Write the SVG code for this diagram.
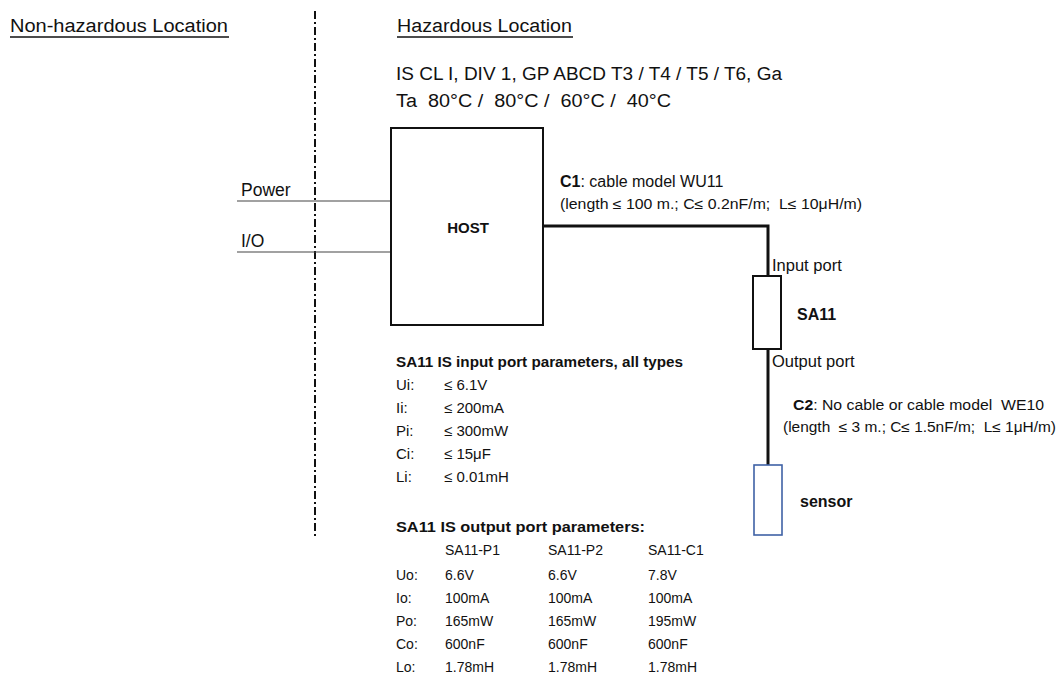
<svg xmlns="http://www.w3.org/2000/svg" width="1059" height="675" viewBox="0 0 1059 675">
<style>
text{font-family:"Liberation Sans",Arial,sans-serif;fill:#111;}
.h{font-size:18px;}
.s{font-size:14px;}
.m{font-size:15px;}
.p{font-size:16.5px;}
.b{font-weight:bold;}
.bl{font-weight:bold;font-size:16px;}
.box{fill:#fff;stroke:#111;stroke-width:2;}
.thin{stroke:#444;stroke-width:1.2;fill:none;}
.cable{stroke:#111;stroke-width:3;fill:none;}
</style>
<rect width="1059" height="675" fill="#fff"/>
<g id="boundary">
<line x1="315" y1="11" x2="315" y2="536" stroke="#111" stroke-width="2" stroke-dasharray="8,3,2,3"/>
<text x="10" y="32" class="h" textLength="218" lengthAdjust="spacingAndGlyphs">Non-hazardous Location</text>
<line x1="10" y1="37" x2="229" y2="37" stroke="#111" stroke-width="1.3"/>
<text x="397" y="32" class="h" textLength="175" lengthAdjust="spacingAndGlyphs">Hazardous Location</text>
<line x1="397" y1="37" x2="573" y2="37" stroke="#111" stroke-width="1.3"/>
<text x="396" y="80" class="h" textLength="386" lengthAdjust="spacingAndGlyphs">IS CL I, DIV 1, GP ABCD T3 / T4 / T5 / T6, Ga</text>
<text x="396" y="107" class="h" xml:space="preserve" textLength="275" lengthAdjust="spacingAndGlyphs">Ta  80°C /  80°C /  60°C /  40°C</text>
</g>
<g id="connectors">
<line x1="237" y1="201" x2="391" y2="201" class="thin"/>
<line x1="237" y1="252" x2="391" y2="252" class="thin"/>
<polyline points="543,226 768,226 768,276" class="cable"/>
<line x1="768" y1="349" x2="768" y2="466" class="cable"/>
</g>
<g id="power-label"><text x="241" y="196" style="font-size:17.5px">Power</text></g>
<g id="io-label"><text x="241" y="247" style="font-size:17.5px">I/O</text></g>
<g id="host">
<rect x="391" y="128" width="152" height="197" class="box"/>
<text x="468" y="233" class="b" style="font-size:15px" text-anchor="middle">HOST</text>
</g>
<g id="c1-label">
<text x="560" y="187" style="font-size:16px"><tspan class="b">C1</tspan>: cable model WU11</text>
<text x="560" y="209" class="s" xml:space="preserve" textLength="302" lengthAdjust="spacingAndGlyphs">(length ≤ 100 m.; C≤ 0.2nF/m;  L≤ 10μH/m)</text>
</g>
<g id="sa11">
<rect x="753" y="276" width="28" height="73" class="box"/>
<text x="772" y="271" class="p">Input port</text>
<text x="797" y="320" class="bl">SA11</text>
<text x="772" y="367" class="p">Output port</text>
</g>
<g id="c2-label">
<text x="793" y="410" class="s" xml:space="preserve" textLength="251" lengthAdjust="spacingAndGlyphs"><tspan class="b">C2</tspan>: No cable or cable model  WE10</text>
<text x="783" y="432" class="s" xml:space="preserve" textLength="273" lengthAdjust="spacingAndGlyphs">(length  ≤ 3 m.; C≤ 1.5nF/m;  L≤ 1μH/m)</text>
</g>
<g id="sensor">
<rect x="754" y="465" width="28" height="70" fill="#fff" stroke="#3f62a6" stroke-width="1.6"/>
<text x="800" y="507" class="bl">sensor</text>
</g>
<g id="input-params">
<text x="396" y="367" class="s b" textLength="287" lengthAdjust="spacingAndGlyphs">SA11 IS input port parameters, all types</text>
<text x="396" y="390" class="m">Ui:</text><text x="444" y="390" class="m">≤ 6.1V</text>
<text x="396" y="413" class="m">Ii:</text><text x="444" y="413" class="m">≤ 200mA</text>
<text x="396" y="436" class="m">Pi:</text><text x="444" y="436" class="m">≤ 300mW</text>
<text x="396" y="459" class="m">Ci:</text><text x="444" y="459" class="m">≤ 15μF</text>
<text x="396" y="482" class="m">Li:</text><text x="444" y="482" class="m">≤ 0.01mH</text>
</g>
<g id="output-params">
<text x="396" y="532" class="s b" textLength="249" lengthAdjust="spacingAndGlyphs">SA11 IS output port parameters:</text>
<text x="445" y="555" class="s">SA11-P1</text><text x="548" y="555" class="s">SA11-P2</text><text x="648" y="555" class="s">SA11-C1</text>
<text x="396" y="580" class="s">Uo:</text><text x="445" y="580" class="s">6.6V</text><text x="548" y="580" class="s">6.6V</text><text x="648" y="580" class="s">7.8V</text>
<text x="396" y="603" class="s">Io:</text><text x="445" y="603" class="s">100mA</text><text x="548" y="603" class="s">100mA</text><text x="648" y="603" class="s">100mA</text>
<text x="396" y="626" class="s">Po:</text><text x="445" y="626" class="s">165mW</text><text x="548" y="626" class="s">165mW</text><text x="648" y="626" class="s">195mW</text>
<text x="396" y="649" class="s">Co:</text><text x="445" y="649" class="s">600nF</text><text x="548" y="649" class="s">600nF</text><text x="648" y="649" class="s">600nF</text>
<text x="396" y="672" class="s">Lo:</text><text x="445" y="672" class="s">1.78mH</text><text x="548" y="672" class="s">1.78mH</text><text x="648" y="672" class="s">1.78mH</text>
</g>
</svg>
